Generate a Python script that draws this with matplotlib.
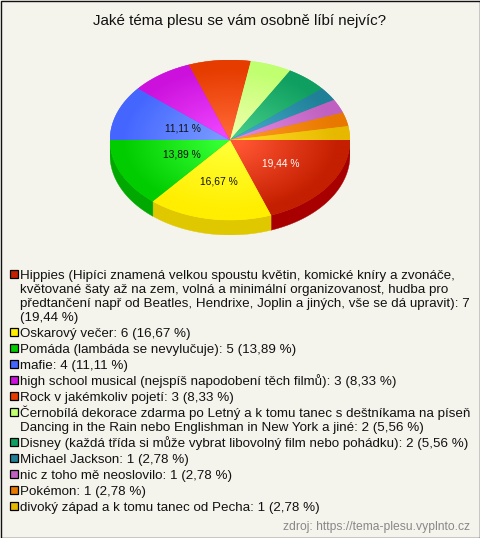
import numpy as np
import matplotlib
matplotlib.use("Agg")
import matplotlib.pyplot as plt
from matplotlib.colors import LinearSegmentedColormap
from matplotlib.patches import Rectangle

plt.rcParams['font.family'] = ['Liberation Sans', 'DejaVu Sans']

title = "Jaké téma plesu se vám osobně líbí nejvíc?"
source = "zdroj: https://tema-plesu.vyplnto.cz"

values = [7, 6, 5, 4, 3, 3, 2, 2, 1, 1, 1, 1]
percents = ["19,44 %", "16,67 %", "13,89 %", "11,11 %", "8,33 %", "8,33 %",
            "5,56 %", "5,56 %", "2,78 %", "2,78 %", "2,78 %", "2,78 %"]
names = [
    "Hippies (Hipíci znamená velkou spoustu květin, komické kníry a zvonáče,\n"
    "květované šaty až na zem, volná a minimální organizovanost, hudba pro\n"
    "předtančení např od Beatles, Hendrixe, Joplin a jiných, vše se dá upravit): 7\n"
    "(19,44 %)",
    "Oskarový večer: 6 (16,67 %)",
    "Pomáda (lambáda se nevylučuje): 5 (13,89 %)",
    "mafie: 4 (11,11 %)",
    "high school musical (nejspíš napodobení těch filmů): 3 (8,33 %)",
    "Rock v jakémkoliv pojetí: 3 (8,33 %)",
    "Černobílá dekorace zdarma po Letný a k tomu tanec s deštníkama na píseň\n"
    "Dancing in the Rain nebo Englishman in New York a jiné: 2 (5,56 %)",
    "Disney (každá třída si může vybrat libovolný film nebo pohádku): 2 (5,56 %)",
    "Michael Jackson: 1 (2,78 %)",
    "nic z toho mě neoslovilo: 1 (2,78 %)",
    "Pokémon: 1 (2,78 %)",
    "divoký západ a k tomu tanec od Pecha: 1 (2,78 %)",
]
rim_colors = ["#c41f00", "#ffee00", "#00cc00", "#4466ff", "#cc11dd", "#e63c00",
              "#c0ff70", "#0f9f60", "#208098", "#c060c0", "#e87800", "#e6b800"]
mid_colors = ["#ff5533", "#ffff33", "#33ff33", "#7799ff", "#ee44ff", "#ff6633",
              "#eeffaa", "#44cc88", "#44aacc", "#e088e0", "#ff9922", "#ffdd22"]
side_colors = ["#a80000", "#e0c800", "#00a800", "#3355cc", "#a00eb0", "#b83000",
               "#9acc5a", "#0c804d", "#1a667a", "#9a4d9a", "#ba6000", "#b89300"]
label_dist = [0.52, 0.53, 0.44, 0.42]

W, H = 480, 538
fig = plt.figure(figsize=(W / 100, H / 100), dpi=100, facecolor="#f5f4ec")

# whole figure in pixel coordinates, for the texts and legend
bg = fig.add_axes([0, 0, 1, 1])
bg.set_xlim(0, W)
bg.set_ylim(H, 0)
bg.axis("off")
bg.add_patch(Rectangle((0.5, 0.5), W - 1, H - 1, fill=False, ec="#111111", lw=1))

bg.text(240, 24.5, title, ha="center", va="baseline", fontsize=10.9, color="#111111")

# pie is a squashed unit circle, y goes down so angles run clockwise
cx, cy, rx, ry, depth = 230, 140, 120, 80, 15
pie = fig.add_axes([(cx - rx) / W, 1 - (cy + ry + depth) / H, 2 * rx / W, (2 * ry + depth) / H])
pie.axis("off")

fracs = np.array(values) / sum(values)
edges = np.concatenate([[0], np.cumsum(fracs)]) * 2 * np.pi

# side wall first
for i in range(len(values)):
    a0, a1 = edges[i], min(edges[i + 1], np.pi)
    if a0 >= np.pi:
        continue
    t = np.linspace(a0, a1, 60)
    xs = np.cos(t)
    ys = np.sin(t)
    pie.fill(np.r_[xs, xs[::-1]], np.r_[ys, ys[::-1] + depth / ry],
             color=side_colors[i], lw=0.3)

# top: radial gradient clipped to each slice
gx, gy = np.meshgrid(np.linspace(-1, 1, 300), np.linspace(-1, 1, 300))
dist = np.sqrt(gx ** 2 + gy ** 2)
for i in range(len(values)):
    t = np.linspace(edges[i], edges[i + 1], 60)
    poly, = pie.fill(np.r_[0, np.cos(t)], np.r_[0, np.sin(t)], color=rim_colors[i], lw=0.3)
    cmap = LinearSegmentedColormap.from_list("s%d" % i, [mid_colors[i], rim_colors[i]])
    im = pie.imshow(dist, extent=(-1, 1, 1, -1), cmap=cmap, vmin=0.1, vmax=0.9,
                    aspect="auto", interpolation="bilinear", zorder=2)
    im.set_clip_path(poly)
pie.set_xlim(-1, 1)
pie.set_ylim(1 + depth / ry, -1)

# percent labels only on the big slices
for i, d in enumerate(label_dist):
    mid = (edges[i] + edges[i + 1]) / 2
    pie.text(d * np.cos(mid), d * np.sin(mid), percents[i], ha="center", va="center",
             fontsize=7.4, color="white" if i == 0 else "#111111", zorder=3)

# legend
y = 279
line_h = 14
for i, name in enumerate(names):
    lines = name.split("\n")
    bg.add_patch(Rectangle((9.5, y - 9), 8, 8, fc=rim_colors[i], ec="black", lw=0.9))
    for j, line in enumerate(lines):
        bg.text(20.5, y, line, ha="left", va="baseline", fontsize=9.6, color="#111111")
        if j < len(lines) - 1:
            y += line_h
    y += 16

bg.text(470, 530, source, ha="right", va="baseline", fontsize=8.7, color="#888888")

fig.savefig("out.png", dpi=100, facecolor=fig.get_facecolor())
